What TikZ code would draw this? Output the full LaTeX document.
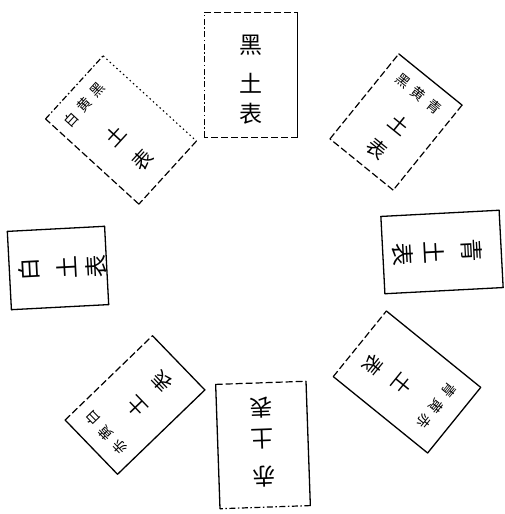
\documentclass[tikz,border=0pt]{standalone}
\usepackage{fontspec}
\newfontfamily\cjk{Noto Sans CJK SC}
\newcommand\boxedges[5]{%
 \draw[#2] (#1.north west) -- (#1.north east);
 \draw[#3] (#1.north east) -- (#1.south east);
 \draw[#4] (#1.south east) -- (#1.south west);
 \draw[#5] (#1.south west) -- (#1.north west);}
\begin{document}
\begin{tikzpicture}[x=1pt,y=1pt,
  box/.style={rectangle, inner sep=0pt, draw=none},
  sol/.style={line width=1.3pt, line cap=round},
  dsh/.style={line width=1.2pt, dash pattern=on 7pt off 3pt},
  dsd/.style={line width=1.2pt, dash pattern=on 6pt off 2.5pt on 1.5pt off 2.5pt},
  dot/.style={line width=1.1pt, dash pattern=on 1.5pt off 3pt},
  ch/.style={font=\cjk\fontsize{23}{23}\selectfont, inner sep=0pt},
  dch/.style={font=\cjk\fontsize{20}{20}\selectfont, inner sep=0pt},
  sm/.style={font=\cjk\fontsize{14}{14}\selectfont, inner sep=0pt}]
\useasboundingbox (0,0) rectangle (504,514);

% North
\begin{scope}[shift={(251,439)}, rotate=0, transform shape]
 \node[box, minimum width=93pt, minimum height=124pt] (N) at (0,0) {};
 \node[ch] (N1) at (0,30) {黑};
 \node[ch] (N2) at (0,-8) {土};
 \node[ch] (N3) at (0,-39) {表};
\end{scope}
\boxedges{N}{dsh}{sol}{dsh}{dsd}

% East
\begin{scope}[shift={(442,262)}, rotate=-87, transform shape]
 \node[box, minimum width=77pt, minimum height=118pt] (E) at (0,0) {};
 \node[ch] (E1) at (0,30) {青};
 \node[ch] (E2) at (0,-8) {土};
 \node[ch] (E3) at (0,-39) {表};
\end{scope}
\boxedges{E}{sol}{sol}{sol}{sol}

% South
\begin{scope}[shift={(263,69)}, rotate=182, transform shape]
 \node[box, minimum width=90pt, minimum height=124pt] (S) at (0,0) {};
 \node[ch] (S1) at (0,32) {赤};
 \node[ch] (S2) at (0,-6) {土};
 \node[ch] (S3) at (0,-37) {表};
\end{scope}
\boxedges{S}{dsd}{sol}{dsh}{sol}

% West
\begin{scope}[shift={(58,246)}, rotate=93, transform shape]
 \node[box, minimum width=78pt, minimum height=97pt] (W) at (0,0) {};
 \node[ch] (W1) at (0,29) {白};
 \node[ch] (W2) at (0,-9) {土};
 \node[ch] (W3) at (0,-38) {表};
\end{scope}
\boxedges{W}{sol}{sol}{sol}{sol}

% North-east
\begin{scope}[shift={(396,392)}, rotate=-39, transform shape]
 \node[box, minimum width=81pt, minimum height=109pt] (NE) at (0,0) {};
 \node[sm] (NEa) at (-20,36) {黑};
 \node[sm] (NEb) at (0,36) {黄};
 \node[sm] (NEc) at (20,36) {青};
 \node[dch] (NE2) at (4,0) {土};
 \node[dch] (NE3) at (2,-33) {表};
\end{scope}
\boxedges{NE}{sol}{dsh}{dsh}{dsh}

% South-east
\begin{scope}[shift={(407,132)}, rotate=-129, transform shape]
 \node[box, minimum width=84pt, minimum height=121pt] (SE) at (0,0) {};
 \node[sm] (SEa) at (-20,38) {青};
 \node[sm] (SEb) at (0,38) {黄};
 \node[sm] (SEc) at (20,38) {赤};
 \node[dch] (SE2) at (4,-2) {土};
 \node[dch] (SE3) at (8,-37) {表};
\end{scope}
\boxedges{SE}{sol}{sol}{dsh}{sol}

% South-west
\begin{scope}[shift={(135,109)}, rotate=134, transform shape]
 \node[box, minimum width=75pt, minimum height=121pt] (SW) at (0,0) {};
 \node[sm] (SWa) at (-20,40) {赤};
 \node[sm] (SWb) at (0,40) {黄};
 \node[sm] (SWc) at (20,40) {白};
 \node[dch] (SW2) at (-2,0) {土};
 \node[dch] (SW3) at (-2,-36) {表};
\end{scope}
\boxedges{SW}{sol}{dsh}{sol}{sol}

% North-west
\begin{scope}[shift={(121,384)}, rotate=47.6, transform shape]
 \node[box, minimum width=85pt, minimum height=126pt] (NW) at (0,0) {};
 \node[sm] (NWa) at (-26,44) {白};
 \node[sm] (NWb) at (-6,44) {黄};
 \node[sm] (NWc) at (14,44) {黑};
 \node[dch] (NW2) at (-8,0) {土};
 \node[dch] (NW3) at (-8,-36) {表};
\end{scope}
\boxedges{NW}{dsd}{dot}{dsh}{dsh}
\end{tikzpicture}
\end{document}
